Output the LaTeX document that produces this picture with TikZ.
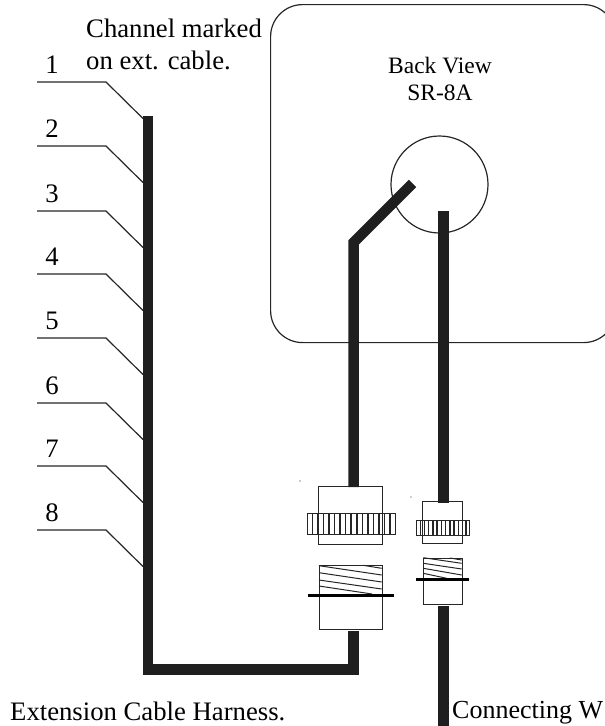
\documentclass[tikz,border=0pt]{standalone}
\usepackage{fontspec}
\setmainfont{Liberation Serif}
\usetikzlibrary{positioning}

\tikzset{
  bigtext/.style={inner sep=0pt, font=\fontsize{26.7}{30}\selectfont},
  paneltext/.style={inner sep=0pt, font=\fontsize{23.5}{27}\selectfont},
  wiretext/.style={inner sep=0pt, font=\fontsize{26}{30}\selectfont},
  cable/.style={line width=10.5pt, draw=black!88, line join=miter},
  thin line/.style={line width=1.2pt, draw=black!85},
  hatch/.style={line width=1pt, draw=black!85},
  band/.style={line width=3pt, draw=black},
  housing/.style={draw=black!85, line width=1.2pt, inner sep=0pt, anchor=north west}
}

\begin{document}
\begin{tikzpicture}[x=1pt,y=-1pt]
  \useasboundingbox (0,0) rectangle (605,726);
  \clip (0,0) rectangle (605,726);

  % panel seen from the back
  \node[housing, rounded corners=32pt, minimum width=345pt, minimum height=338pt] (panel) at (270,4) {};
  \node[draw=black!85, line width=1.2pt, circle, inner sep=0pt, minimum size=97pt] (socket) at (439.5,184.5) {};
  \node[paneltext, anchor=base] (backview) at (440,73) {Back View};
  \node[paneltext, anchor=base] (model) at (440,100) {SR-8A};

  \node[bigtext, anchor=base west] (channel) at (86,37) {Channel marked};
  \node[bigtext, anchor=base west] (extcable) at (86,69) {on ext. cable.};

  % big connector
  \node[housing, minimum width=64pt, minimum height=58pt] (bigtop) at (318,486) {};
  \node[housing, minimum width=63pt, minimum height=64pt] (bigbottom) at (319,565) {};
  \node[housing, minimum width=88pt, minimum height=21pt] (bigknurl) at (307,513) {};
  \foreach \x in {312.5,318,323.5,329,334.5,340,345.5,351,357,362.5,368,373.5,379,384.5,390} {
    \draw[thin line] (\x,513) -- (\x,534);
  }
  \draw[hatch] (319,565.7) -- (381.7,575);
  \draw[hatch] (319,572.7) -- (381.7,582);
  \draw[hatch] (319,580) -- (381.7,589);
  \draw[hatch] (319,586) -- (372,594);
  \draw[hatch] (363,565.3) -- (381.7,568.3);
  \coordinate (bigbandl) at (308,595);
  \coordinate (bigbandr) at (394,595);
  \draw[band] (bigbandl) -- (bigbandr);

  % small connector
  \node[housing, minimum width=40pt, minimum height=42pt] (smalltop) at (422,501) {};
  \node[housing, minimum width=39pt, minimum height=46pt] (smallbottom) at (423,558) {};
  \node[housing, minimum width=53pt, minimum height=15pt] (smallknurl) at (416,520) {};
  \foreach \x in {420.5,424.5,428.5,433,437,441.5,445.5,450,454,458.5,462.5,466} {
    \draw[thin line] (\x,520) -- (\x,535);
  }
  \draw[hatch] (423.3,557.7) -- (461.7,563.3);
  \draw[hatch] (423.3,563.3) -- (461.7,569);
  \draw[hatch] (423.3,568.3) -- (461.7,575);
  \draw[hatch] (423.3,573.3) -- (446.7,578.3);
  \draw[hatch] (450,558) -- (461.7,560);
  \coordinate (smallbandl) at (416,579);
  \coordinate (smallbandr) at (469,579);
  \draw[band] (smallbandl) -- (smallbandr);

  % cables
  \coordinate (harnesstop) at (148,116);
  \coordinate (harnesscorner) at (148,669.5);
  \coordinate (harnessend) at (353.5,669.5);
  \coordinate (bigstub) at (353.5,631);
  \draw[cable] (harnesstop) -- (harnesscorner) -- (harnessend) -- (bigstub);

  \coordinate (plugend) at (412.5,183.5);
  \coordinate (plugbend) at (353.5,242.5);
  \coordinate (plugfoot) at (353.5,487);
  \draw[cable] (plugend) -- (plugbend) -- (plugfoot);

  \coordinate (wiretop) at (443.5,211);
  \coordinate (wirefoot) at (443.5,503);
  \coordinate (wirelow) at (443.5,606);
  \coordinate (wireend) at (443.5,726);
  \draw[cable] (wiretop) -- (wirefoot);
  \draw[cable] (wirelow) -- (wireend);

  % channels
  \foreach \n/\y in {1/82,2/146,3/211,4/274,5/338,6/403,7/466,8/530} {
    \coordinate (lead\n) at (37,\y);
    \coordinate (knee\n) at (106,\y);
    \coordinate (tap\n) at (143,\y+36.5);
    \draw[thin line] (lead\n) -- (knee\n) -- (tap\n);
    \node[bigtext, anchor=base] (num\n) at (52,\y-8.5) {\n};
  }

  \node[bigtext, anchor=base west] (harness) at (10,720) {Extension Cable Harness.};
  \node[wiretext, anchor=base west] (wire) at (452,718) {Connecting W};

  % specks
  \fill[black!40] (300,481) circle (0.8pt);
  \fill[black!80] (411,497) circle (0.6pt);
\end{tikzpicture}
\end{document}
